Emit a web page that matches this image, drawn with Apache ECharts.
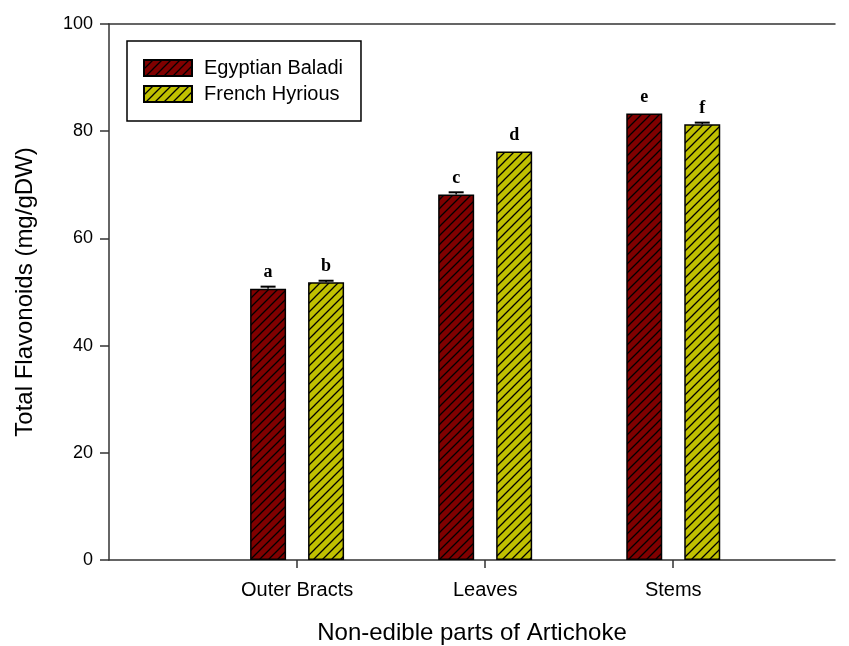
<!DOCTYPE html>
<html>
<head>
<meta charset="utf-8">
<script src="https://cdn.jsdelivr.net/npm/echarts@6/dist/echarts.min.js"></script>
<style>
  html, body { margin: 0; padding: 0; background: #fff; }
  #chart { width: 849px; height: 646px; }
</style>
</head>
<body>
<div id="chart"></div>
<script>
// Total flavonoid content of non-edible artichoke parts, two cultivars
const categories = ['Outer Bracts', 'Leaves', 'Stems'];
const seriesNames = ['Egyptian Baladi', 'French Hyrious'];
const egyptianValues = [50.6, 68.2, 83.3];
const frenchValues = [51.8, 76.2, 81.3];
const egyptianErrors = [0.4, 0.4, 0];
const frenchErrors = [0.3, 0, 0.3];
const egyptianLetters = ['a', 'c', 'e'];
const frenchLetters = ['b', 'd', 'f'];
const yTicks = [0, 20, 40, 60, 80, 100];

const BAR_W = 36;
const BAR_GAP = 22;
const FONT = 'Liberation Sans, Arial, sans-serif';

// Diagonal hatch ("///") over a solid fill
function hatch(fill) {
  const s = 9;
  const c = document.createElement('canvas');
  c.width = s; c.height = s;
  const g = c.getContext('2d');
  g.fillStyle = fill;
  g.fillRect(0, 0, s, s);
  g.strokeStyle = '#000';
  g.lineWidth = 1.3;
  g.beginPath();
  g.moveTo(-1, s + 1); g.lineTo(s + 1, -1);
  g.moveTo(-1, 1); g.lineTo(1, -1);
  g.moveTo(s - 1, s + 1); g.lineTo(s + 1, s - 1);
  g.stroke();
  return { image: c, repeat: 'repeat' };
}

const chart = echarts.init(document.getElementById('chart'), null, { renderer: 'canvas' });

function barData(values) {
  return values.map((v, i) => [i + 1, v]);
}

// Small error caps above each bar (skipped where the error is zero)
function errorSeries(values, errors, side) {
  const data = values.map((v, i) => [i + 1, v, errors[i]]);
  return {
    type: 'custom',
    silent: true,
    z: 5,
    data: data,
    renderItem: function (params, api) {
      const x = api.value(0), v = api.value(1), e = api.value(2);
      if (!e) return null;
      const base = api.coord([x, v]);
      const top = api.coord([x, v + e]);
      const cx = base[0] + side * (BAR_W + BAR_GAP) / 2;
      const half = 7.5;
      return {
        type: 'group',
        children: [
          { type: 'line', shape: { x1: cx, y1: base[1], x2: cx, y2: top[1] }, style: { stroke: '#000', lineWidth: 1.5 } },
          { type: 'line', shape: { x1: cx - half, y1: top[1], x2: cx + half, y2: top[1] }, style: { stroke: '#000', lineWidth: 2 } }
        ]
      };
    },
    encode: { x: 0, y: 1 }
  };
}

function letterLabel(letters) {
  return {
    show: true,
    position: 'top',
    distance: 7,
    formatter: p => letters[p.dataIndex],
    fontFamily: 'Liberation Serif, Times New Roman, serif',
    fontWeight: 'bold',
    fontSize: 18,
    color: '#000'
  };
}

const option = {
  backgroundColor: '#fff',
  animation: false,
  grid: { left: 109, right: 14, top: 24, bottom: 86, containLabel: false, outerBoundsMode: 'none' },
  legend: {
    orient: 'vertical',
    left: 127,
    top: 41,
    padding: [17, 18, 17, 16],
    itemWidth: 48,
    itemHeight: 16,
    itemGap: 6,
    icon: 'rect',
    borderColor: '#000',
    borderWidth: 1.5,
    data: seriesNames,
    textStyle: { fontFamily: FONT, fontSize: 20, color: '#000', padding: [0, 0, 0, 7] }
  },
  xAxis: [{
    type: 'value',
    min: 0,
    max: 3.86,
    interval: 1,
    name: 'Non-edible parts of Artichoke',
    nameLocation: 'middle',
    nameGap: 61,
    nameTextStyle: { fontFamily: FONT, fontSize: 24, color: '#000' },
    axisLine: { show: true, lineStyle: { color: '#333', width: 1.5 } },
    axisTick: { show: true, inside: false, length: 8, customValues: [1, 2, 3], lineStyle: { color: '#333', width: 1.5 } },
    axisLabel: {
      customValues: [1, 2, 3],
      formatter: v => categories[Math.round(v) - 1] || '',
      margin: 20,
      fontFamily: FONT, fontSize: 20, color: '#000'
    },
    splitLine: { show: false }
  }, {
    type: 'value',
    position: 'top',
    min: 0,
    max: 3.86,
    axisLine: { show: true, onZero: false, lineStyle: { color: '#333', width: 1.5 } },
    axisTick: { show: false },
    axisLabel: { show: false },
    splitLine: { show: false }
  }],
  yAxis: {
    type: 'value',
    min: 0,
    max: 100,
    interval: 20,
    name: 'Total Flavonoids (mg/gDW)',
    nameLocation: 'middle',
    nameGap: 72,
    nameTextStyle: { fontFamily: FONT, fontSize: 24, color: '#000' },
    axisLine: { show: true, lineStyle: { color: '#333', width: 1.5 } },
    axisTick: { show: true, inside: false, length: 9, lineStyle: { color: '#333', width: 1.5 } },
    axisLabel: {
      margin: 16,
      formatter: v => (yTicks.indexOf(v) >= 0 ? String(v) : ''),
      fontFamily: FONT, fontSize: 18, color: '#000'
    },
    splitLine: { show: false }
  },
  series: [
    {
      name: seriesNames[0],
      type: 'bar',
      xAxisIndex: 0,
      barWidth: BAR_W,
      barGap: (BAR_GAP / BAR_W * 100).toFixed(1) + '%',
      data: barData(egyptianValues),
      itemStyle: { color: hatch('#800000'), borderColor: '#000', borderWidth: 1.5 },
      label: letterLabel(egyptianLetters)
    },
    {
      name: seriesNames[1],
      type: 'bar',
      xAxisIndex: 0,
      barWidth: BAR_W,
      barGap: (BAR_GAP / BAR_W * 100).toFixed(1) + '%',
      data: barData(frenchValues),
      itemStyle: { color: hatch('#c0c000'), borderColor: '#000', borderWidth: 1.5 },
      label: letterLabel(frenchLetters)
    },
    errorSeries(egyptianValues, egyptianErrors, -1),
    errorSeries(frenchValues, frenchErrors, 1)
  ]
};

chart.setOption(option);
</script>
</body>
</html>
